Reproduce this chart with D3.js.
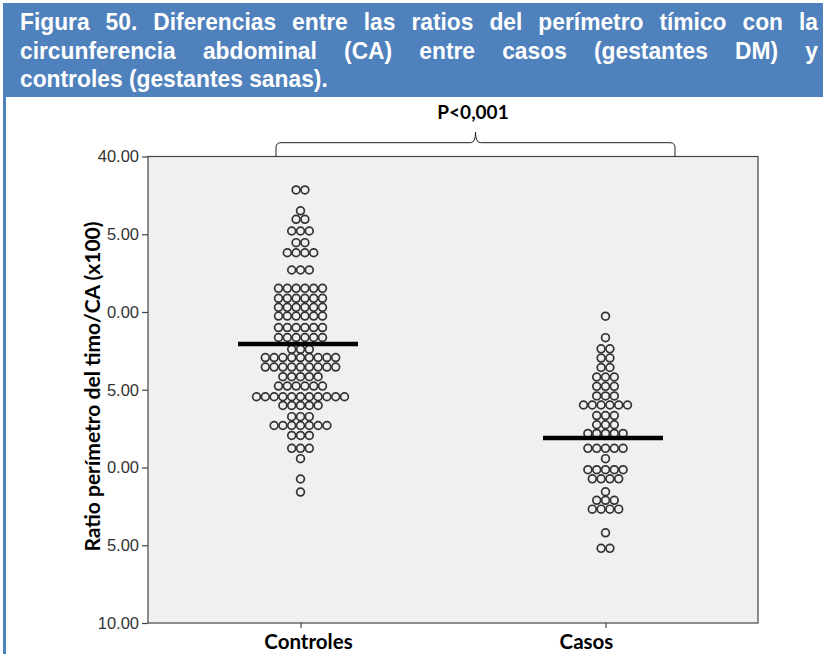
<!DOCTYPE html>
<html>
<head>
<meta charset="utf-8">
<script src="https://cdn.jsdelivr.net/npm/d3@7"></script>
<style>
  html, body { margin: 0; padding: 0; background: #ffffff; }
  svg { display: block; }
</style>
</head>
<body>
<svg id="chart" width="823" height="654"></svg>
<script>
// ---- Data ---------------------------------------------------------------
const titleLines = [
  "Figura 50. Diferencias entre las ratios del perímetro tímico con la",
  "circunferencia abdominal (CA) entre casos (gestantes DM) y",
  "controles (gestantes sanas)."
];
const categories = ["Controles", "Casos"];

// Dot-plot rows: ratio value of each row and the number of subjects in it
const controlesLevels = [37.85, 36.51, 35.96, 35.21, 34.46, 33.81, 32.70, 31.52, 30.88, 30.30,
                         29.74, 29.00, 28.36, 27.60, 27.07, 26.46, 25.84, 25.24, 24.55, 23.99,
                         23.27, 22.70, 22.06, 21.23, 20.57, 19.26, 18.42];
const controlesCounts = [2, 1, 2, 3, 2, 4, 3, 6, 6, 6,
                         6, 6, 6, 3, 9, 9, 5, 6, 11, 5,
                         3, 7, 3, 3, 1, 1, 1];
const casosLevels = [29.73, 28.35, 27.63, 27.04, 26.43, 25.82, 25.22, 24.60, 24.02, 23.34,
                     22.75, 22.19, 21.23, 20.57, 19.86, 19.27, 18.44, 17.89, 17.32, 15.80, 14.80];
const casosCounts = [1, 1, 2, 2, 2, 3, 3, 3, 6, 3,
                     3, 5, 5, 1, 5, 4, 1, 3, 4, 1, 2];

const groupMeans = [27.94, 21.90];

const yTicks = [10, 15, 20, 25, 30, 35, 40];
const yTickLabels = ["10.00", "5.00", "0.00", "5.00", "0.00", "5.00", "40.00"];
const yAxisTitle = "Ratio perímetro del timo/CA (x100)";
const pValueLabel = "P<0,001";

// ---- Layout -------------------------------------------------------------
const svg = d3.select("#chart");
const W = 823, H = 654;
const plot = { left: 148, right: 758, top: 156.5, bottom: 623 };
const BLUE = "#4f81bd";
const labelFont = "Lato, 'Open Sans', sans-serif";

svg.append("rect").attr("width", W).attr("height", H).attr("fill", "#ffffff");

// Caption box with the frame running down the left side
svg.append("rect").attr("x", 3).attr("y", 3).attr("width", W - 3).attr("height", 94).attr("fill", BLUE);
svg.append("rect").attr("x", 3).attr("y", 3).attr("width", 3).attr("height", H - 3).attr("fill", BLUE);

const captionFont = "'Liberation Sans', Arial, sans-serif";
const captionSize = 23.5;
const captionScaleX = 0.97;
const captionLeft = 20, captionRight = 818;
const captionBaselines = [30, 58.5, 87];

titleLines.forEach((line, li) => {
  const justify = li < titleLines.length - 1;
  const g = svg.append("g")
    .attr("transform", `translate(${captionLeft},${captionBaselines[li]}) scale(${captionScaleX},1)`);
  const words = line.split(" ");
  const nodes = words.map(w => g.append("text")
    .attr("font-family", captionFont)
    .attr("font-size", captionSize)
    .attr("font-weight", "bold")
    .attr("fill", "#ffffff")
    .text(w));
  const widths = nodes.map(n => n.node().getComputedTextLength());
  const total = d3.sum(widths);
  const avail = (captionRight - captionLeft) / captionScaleX;
  const gap = justify ? (avail - total) / (words.length - 1) : captionSize * 0.278;
  let cx = 0;
  nodes.forEach((n, i) => { n.attr("x", cx); cx += widths[i] + gap; });
});

// ---- Scales -------------------------------------------------------------
const y = d3.scaleLinear().domain([10, 40]).range([plot.bottom, plot.top]);
const x = d3.scalePoint().domain(categories).range([plot.left, plot.right]).padding(0.5);

// Plot background
svg.append("rect")
  .attr("x", plot.left).attr("y", plot.top)
  .attr("width", plot.right - plot.left).attr("height", plot.bottom - plot.top)
  .attr("fill", "#f0f0f0").attr("stroke", "#444444").attr("stroke-width", 1.2);

// ---- Axes ---------------------------------------------------------------
const tickFont = "'Liberation Sans', Arial, sans-serif";
const yAxis = svg.append("g")
  .attr("transform", `translate(${plot.left},0)`)
  .call(d3.axisLeft(y).tickValues(yTicks)
    .tickFormat((d, i) => yTickLabels[i]).tickSize(6).tickSizeOuter(0).tickPadding(3));
yAxis.select(".domain").remove();
yAxis.selectAll(".tick line").attr("stroke", "#444444").attr("stroke-width", 1.2);
yAxis.selectAll(".tick text")
  .attr("font-family", tickFont).attr("font-size", 16.5).attr("fill", "#333333");

const xAxis = svg.append("g")
  .attr("transform", `translate(0,${plot.bottom})`)
  .call(d3.axisBottom(x).tickSize(5).tickSizeOuter(0).tickFormat(""));
xAxis.select(".domain").remove();
xAxis.selectAll(".tick line").attr("stroke", "#444444").attr("stroke-width", 1.2);

// Category labels
const labelShift = { "Controles": 8, "Casos": -19 };
svg.append("g").selectAll("text")
  .data(categories).join("text")
  .attr("x", d => x(d) + labelShift[d])
  .attr("y", 648.5)
  .attr("text-anchor", "middle")
  .attr("font-family", labelFont)
  .attr("font-weight", "bold")
  .attr("font-size", 20.5)
  .attr("fill", "#000000")
  .text(d => d);

// Y axis title
svg.append("text")
  .attr("transform", `translate(99.5,${(225 + 548) / 2}) rotate(-90)`)
  .attr("text-anchor", "middle")
  .attr("font-family", labelFont)
  .attr("font-weight", "bold")
  .attr("font-size", 21)
  .attr("fill", "#000000")
  .text(yAxisTitle);

// ---- Dots ---------------------------------------------------------------
const dotSpacing = 8.8;
const groups = [
  { cat: categories[0], levels: controlesLevels, counts: controlesCounts },
  { cat: categories[1], levels: casosLevels, counts: casosCounts }
];
const dots = [];
groups.forEach(gr => {
  gr.levels.forEach((v, i) => {
    const n = gr.counts[i];
    for (let j = 0; j < n; j++) {
      dots.push({ cat: gr.cat, value: v, offset: (j - (n - 1) / 2) * dotSpacing });
    }
  });
});
svg.append("g").selectAll("circle")
  .data(dots).join("circle")
  .attr("cx", d => x(d.cat) + d.offset)
  .attr("cy", d => y(d.value))
  .attr("r", 3.9)
  .attr("fill", "none")
  .attr("stroke", "#333333")
  .attr("stroke-width", 1.7);

// Mean lines
const meanHalf = 60;
svg.append("g").selectAll("line")
  .data(categories).join("line")
  .attr("x1", d => x(d) - 2.5 - meanHalf)
  .attr("x2", d => x(d) - 2.5 + meanHalf)
  .attr("y1", (d, i) => y(groupMeans[i]))
  .attr("y2", (d, i) => y(groupMeans[i]))
  .attr("stroke", "#000000")
  .attr("stroke-width", 4.5);

// ---- Significance brace ---------------------------------------------------
const bx0 = 276, bx1 = 675, bmid = (bx0 + bx1) / 2, by = 142.7, btip = 132, r = 5;
const brace = d3.path();
brace.moveTo(bx0, plot.top);
brace.lineTo(bx0, by + r);
brace.quadraticCurveTo(bx0, by, bx0 + r, by);
brace.lineTo(bmid - r, by);
brace.quadraticCurveTo(bmid, by, bmid, btip);
brace.quadraticCurveTo(bmid, by, bmid + r, by);
brace.lineTo(bx1 - r, by);
brace.quadraticCurveTo(bx1, by, bx1, by + r);
brace.lineTo(bx1, plot.top);
svg.append("path").attr("d", brace.toString())
  .attr("fill", "none").attr("stroke", "#222222").attr("stroke-width", 1);

svg.append("text")
  .attr("x", 473).attr("y", 119)
  .attr("text-anchor", "middle")
  .attr("font-family", labelFont)
  .attr("font-weight", "bold")
  .attr("font-size", 19)
  .attr("fill", "#000000")
  .text(pValueLabel);
</script>
</body>
</html>
